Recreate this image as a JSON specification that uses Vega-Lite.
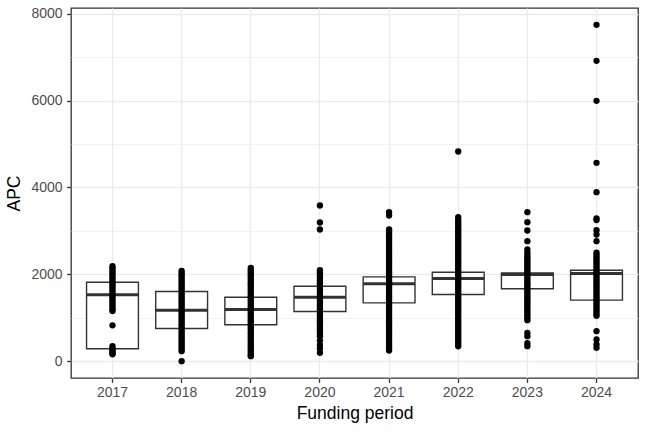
{
  "$schema": "https://vega.github.io/schema/vega-lite/v6.json",
  "autosize": {"type": "none"},
  "width": 567,
  "height": 370,
  "padding": {"left": 71, "top": 8, "right": 10, "bottom": 54},
  "background": "white",
  "config": {
    "view": {"stroke": "#333333", "strokeWidth": 1.3},
    "font": "Liberation Sans",
    "axis": {
      "labelFont": "Liberation Sans",
      "titleFont": "Liberation Sans",
      "labelFontSize": 14,
      "labelColor": "#4D4D4D",
      "titleFontSize": 17.5,
      "titleFontWeight": "normal",
      "titleColor": "#000000",
      "tickColor": "#333333",
      "tickSize": 4.4,
      "tickWidth": 1.3,
      "domain": false,
      "gridColor": "#EBEBEB"
    }
  },
  "datasets": {
    "boxes": [
      {"year": "2017", "q1": 292, "median": 1533, "q3": 1823},
      {"year": "2018", "q1": 759, "median": 1180, "q3": 1609},
      {"year": "2019", "q1": 843, "median": 1195, "q3": 1478},
      {"year": "2020", "q1": 1149, "median": 1478, "q3": 1731},
      {"year": "2021", "q1": 1348, "median": 1785, "q3": 1946},
      {"year": "2022", "q1": 1540, "median": 1908, "q3": 2053},
      {"year": "2023", "q1": 1671, "median": 2000, "q3": 2038},
      {"year": "2024", "q1": 1410, "median": 2023, "q3": 2099}
    ],
    "points": [
      {"year":"2017","APC":2190},{"year":"2017","APC":2150},{"year":"2017","APC":2100},{"year":"2017","APC":2050},{"year":"2017","APC":2000},{"year":"2017","APC":1950},{"year":"2017","APC":1900},{"year":"2017","APC":1850},{"year":"2017","APC":1800},{"year":"2017","APC":1750},{"year":"2017","APC":1700},{"year":"2017","APC":1650},{"year":"2017","APC":1600},{"year":"2017","APC":1550},{"year":"2017","APC":1500},{"year":"2017","APC":1450},{"year":"2017","APC":1400},{"year":"2017","APC":1350},{"year":"2017","APC":1300},{"year":"2017","APC":1250},{"year":"2017","APC":1200},{"year":"2017","APC":1160},{"year":"2017","APC":830},{"year":"2017","APC":350},{"year":"2017","APC":300},{"year":"2017","APC":260},{"year":"2017","APC":220},{"year":"2017","APC":190},{"year":"2017","APC":165},
      {"year":"2018","APC":2080},{"year":"2018","APC":2030},{"year":"2018","APC":1980},{"year":"2018","APC":1930},{"year":"2018","APC":1880},{"year":"2018","APC":1830},{"year":"2018","APC":1780},{"year":"2018","APC":1730},{"year":"2018","APC":1680},{"year":"2018","APC":1630},{"year":"2018","APC":1580},{"year":"2018","APC":1530},{"year":"2018","APC":1480},{"year":"2018","APC":1430},{"year":"2018","APC":1380},{"year":"2018","APC":1330},{"year":"2018","APC":1280},{"year":"2018","APC":1230},{"year":"2018","APC":1180},{"year":"2018","APC":1130},{"year":"2018","APC":1080},{"year":"2018","APC":1030},{"year":"2018","APC":980},{"year":"2018","APC":930},{"year":"2018","APC":880},{"year":"2018","APC":830},{"year":"2018","APC":780},{"year":"2018","APC":730},{"year":"2018","APC":680},{"year":"2018","APC":630},{"year":"2018","APC":580},{"year":"2018","APC":530},{"year":"2018","APC":480},{"year":"2018","APC":430},{"year":"2018","APC":380},{"year":"2018","APC":330},{"year":"2018","APC":280},{"year":"2018","APC":237},{"year":"2018","APC":7},
      {"year":"2019","APC":2150},{"year":"2019","APC":2100},{"year":"2019","APC":2050},{"year":"2019","APC":2000},{"year":"2019","APC":1950},{"year":"2019","APC":1900},{"year":"2019","APC":1850},{"year":"2019","APC":1800},{"year":"2019","APC":1750},{"year":"2019","APC":1700},{"year":"2019","APC":1650},{"year":"2019","APC":1600},{"year":"2019","APC":1550},{"year":"2019","APC":1500},{"year":"2019","APC":1450},{"year":"2019","APC":1400},{"year":"2019","APC":1350},{"year":"2019","APC":1300},{"year":"2019","APC":1250},{"year":"2019","APC":1200},{"year":"2019","APC":1150},{"year":"2019","APC":1100},{"year":"2019","APC":1050},{"year":"2019","APC":1000},{"year":"2019","APC":950},{"year":"2019","APC":900},{"year":"2019","APC":850},{"year":"2019","APC":800},{"year":"2019","APC":750},{"year":"2019","APC":700},{"year":"2019","APC":650},{"year":"2019","APC":600},{"year":"2019","APC":550},{"year":"2019","APC":500},{"year":"2019","APC":450},{"year":"2019","APC":400},{"year":"2019","APC":350},{"year":"2019","APC":300},{"year":"2019","APC":250},{"year":"2019","APC":200},{"year":"2019","APC":150},{"year":"2019","APC":122},
      {"year":"2020","APC":3586},{"year":"2020","APC":3195},{"year":"2020","APC":3034},{"year":"2020","APC":2100},{"year":"2020","APC":2050},{"year":"2020","APC":2000},{"year":"2020","APC":1950},{"year":"2020","APC":1900},{"year":"2020","APC":1850},{"year":"2020","APC":1800},{"year":"2020","APC":1750},{"year":"2020","APC":1700},{"year":"2020","APC":1650},{"year":"2020","APC":1600},{"year":"2020","APC":1550},{"year":"2020","APC":1500},{"year":"2020","APC":1450},{"year":"2020","APC":1400},{"year":"2020","APC":1350},{"year":"2020","APC":1300},{"year":"2020","APC":1250},{"year":"2020","APC":1200},{"year":"2020","APC":1150},{"year":"2020","APC":1100},{"year":"2020","APC":1050},{"year":"2020","APC":1000},{"year":"2020","APC":950},{"year":"2020","APC":900},{"year":"2020","APC":850},{"year":"2020","APC":800},{"year":"2020","APC":750},{"year":"2020","APC":700},{"year":"2020","APC":650},{"year":"2020","APC":580},{"year":"2020","APC":480},{"year":"2020","APC":380},{"year":"2020","APC":300},{"year":"2020","APC":200},
      {"year":"2021","APC":3432},{"year":"2021","APC":3356},{"year":"2021","APC":3034},{"year":"2021","APC":3000},{"year":"2021","APC":2950},{"year":"2021","APC":2900},{"year":"2021","APC":2850},{"year":"2021","APC":2800},{"year":"2021","APC":2750},{"year":"2021","APC":2700},{"year":"2021","APC":2650},{"year":"2021","APC":2600},{"year":"2021","APC":2550},{"year":"2021","APC":2500},{"year":"2021","APC":2450},{"year":"2021","APC":2400},{"year":"2021","APC":2350},{"year":"2021","APC":2300},{"year":"2021","APC":2250},{"year":"2021","APC":2200},{"year":"2021","APC":2150},{"year":"2021","APC":2100},{"year":"2021","APC":2050},{"year":"2021","APC":2000},{"year":"2021","APC":1950},{"year":"2021","APC":1900},{"year":"2021","APC":1850},{"year":"2021","APC":1800},{"year":"2021","APC":1750},{"year":"2021","APC":1700},{"year":"2021","APC":1650},{"year":"2021","APC":1600},{"year":"2021","APC":1550},{"year":"2021","APC":1500},{"year":"2021","APC":1450},{"year":"2021","APC":1400},{"year":"2021","APC":1350},{"year":"2021","APC":1300},{"year":"2021","APC":1250},{"year":"2021","APC":1200},{"year":"2021","APC":1150},{"year":"2021","APC":1100},{"year":"2021","APC":1050},{"year":"2021","APC":1000},{"year":"2021","APC":950},{"year":"2021","APC":900},{"year":"2021","APC":850},{"year":"2021","APC":800},{"year":"2021","APC":750},{"year":"2021","APC":700},{"year":"2021","APC":650},{"year":"2021","APC":600},{"year":"2021","APC":550},{"year":"2021","APC":500},{"year":"2021","APC":450},{"year":"2021","APC":400},{"year":"2021","APC":350},{"year":"2021","APC":300},{"year":"2021","APC":250},
      {"year":"2022","APC":4828},{"year":"2022","APC":3317},{"year":"2022","APC":3250},{"year":"2022","APC":3200},{"year":"2022","APC":3150},{"year":"2022","APC":3100},{"year":"2022","APC":3050},{"year":"2022","APC":3000},{"year":"2022","APC":2950},{"year":"2022","APC":2900},{"year":"2022","APC":2850},{"year":"2022","APC":2800},{"year":"2022","APC":2750},{"year":"2022","APC":2700},{"year":"2022","APC":2650},{"year":"2022","APC":2600},{"year":"2022","APC":2550},{"year":"2022","APC":2500},{"year":"2022","APC":2450},{"year":"2022","APC":2400},{"year":"2022","APC":2350},{"year":"2022","APC":2300},{"year":"2022","APC":2250},{"year":"2022","APC":2200},{"year":"2022","APC":2150},{"year":"2022","APC":2100},{"year":"2022","APC":2050},{"year":"2022","APC":2000},{"year":"2022","APC":1950},{"year":"2022","APC":1900},{"year":"2022","APC":1850},{"year":"2022","APC":1800},{"year":"2022","APC":1750},{"year":"2022","APC":1700},{"year":"2022","APC":1650},{"year":"2022","APC":1600},{"year":"2022","APC":1550},{"year":"2022","APC":1500},{"year":"2022","APC":1450},{"year":"2022","APC":1400},{"year":"2022","APC":1350},{"year":"2022","APC":1300},{"year":"2022","APC":1250},{"year":"2022","APC":1200},{"year":"2022","APC":1150},{"year":"2022","APC":1100},{"year":"2022","APC":1050},{"year":"2022","APC":1000},{"year":"2022","APC":950},{"year":"2022","APC":900},{"year":"2022","APC":850},{"year":"2022","APC":800},{"year":"2022","APC":750},{"year":"2022","APC":700},{"year":"2022","APC":650},{"year":"2022","APC":600},{"year":"2022","APC":550},{"year":"2022","APC":500},{"year":"2022","APC":450},{"year":"2022","APC":400},{"year":"2022","APC":350},
      {"year":"2023","APC":3432},{"year":"2023","APC":3202},{"year":"2023","APC":3011},{"year":"2023","APC":2766},{"year":"2023","APC":2575},{"year":"2023","APC":2500},{"year":"2023","APC":2450},{"year":"2023","APC":2400},{"year":"2023","APC":2350},{"year":"2023","APC":2300},{"year":"2023","APC":2250},{"year":"2023","APC":2200},{"year":"2023","APC":2150},{"year":"2023","APC":2100},{"year":"2023","APC":2050},{"year":"2023","APC":2000},{"year":"2023","APC":1950},{"year":"2023","APC":1900},{"year":"2023","APC":1850},{"year":"2023","APC":1800},{"year":"2023","APC":1750},{"year":"2023","APC":1700},{"year":"2023","APC":1650},{"year":"2023","APC":1600},{"year":"2023","APC":1550},{"year":"2023","APC":1500},{"year":"2023","APC":1450},{"year":"2023","APC":1400},{"year":"2023","APC":1350},{"year":"2023","APC":1300},{"year":"2023","APC":1250},{"year":"2023","APC":1200},{"year":"2023","APC":1150},{"year":"2023","APC":1100},{"year":"2023","APC":1050},{"year":"2023","APC":1000},{"year":"2023","APC":950},{"year":"2023","APC":659},{"year":"2023","APC":582},{"year":"2023","APC":420},{"year":"2023","APC":352},
      {"year":"2024","APC":7740},{"year":"2024","APC":6913},{"year":"2024","APC":5993},{"year":"2024","APC":4568},{"year":"2024","APC":3893},{"year":"2024","APC":3287},{"year":"2024","APC":3250},{"year":"2024","APC":3018},{"year":"2024","APC":2920},{"year":"2024","APC":2766},{"year":"2024","APC":2500},{"year":"2024","APC":2450},{"year":"2024","APC":2400},{"year":"2024","APC":2350},{"year":"2024","APC":2300},{"year":"2024","APC":2250},{"year":"2024","APC":2200},{"year":"2024","APC":2150},{"year":"2024","APC":2100},{"year":"2024","APC":2050},{"year":"2024","APC":2000},{"year":"2024","APC":1950},{"year":"2024","APC":1900},{"year":"2024","APC":1850},{"year":"2024","APC":1800},{"year":"2024","APC":1750},{"year":"2024","APC":1700},{"year":"2024","APC":1650},{"year":"2024","APC":1600},{"year":"2024","APC":1550},{"year":"2024","APC":1500},{"year":"2024","APC":1450},{"year":"2024","APC":1400},{"year":"2024","APC":1350},{"year":"2024","APC":1300},{"year":"2024","APC":1250},{"year":"2024","APC":1200},{"year":"2024","APC":1150},{"year":"2024","APC":1100},{"year":"2024","APC":1050},{"year":"2024","APC":697},{"year":"2024","APC":506},{"year":"2024","APC":391},{"year":"2024","APC":314}
    ]
  },
  "encoding": {
    "x": {
      "field": "year",
      "type": "ordinal",
      "title": "Funding period",
      "scale": {"type": "band", "paddingInner": 0.25, "paddingOuter": 0.225},
      "axis": {"labelAngle": 0, "bandPosition": 0.5, "grid": true, "gridWidth": 1.3, "labelPadding": 3.5, "titlePadding": 4.5}
    }
  },
  "layer": [
    {
      "data": {"name": "boxes"},
      "mark": {"type": "bar", "fill": "white", "stroke": "#333333", "strokeWidth": 1.4},
      "encoding": {
        "y": {
          "field": "q1",
          "type": "quantitative",
          "title": "APC",
          "scale": {"domain": [-380, 8127], "nice": false, "zero": false},
          "axis": {
            "values": [0, 1000, 2000, 3000, 4000, 5000, 6000, 7000, 8000],
            "format": "d",
            "labelExpr": "datum.value % 2000 === 0 ? datum.label : ''",
            "tickOpacity": {"condition": {"test": "datum.value % 2000 === 0", "value": 1}, "value": 0},
            "gridWidth": {"condition": {"test": "datum.value % 2000 === 0", "value": 1.3}, "value": 0.7},
            "grid": true,
            "labelPadding": 4.5,
            "titlePadding": 7
          }
        },
        "y2": {"field": "q3"}
      }
    },
    {
      "data": {"name": "boxes"},
      "mark": {"type": "rule", "color": "#333333", "strokeWidth": 3},
      "encoding": {
        "x": {"field": "year", "type": "ordinal", "bandPosition": 0},
        "x2": {"field": "year", "bandPosition": 1},
        "y": {"field": "median", "type": "quantitative"}
      }
    },
    {
      "data": {"name": "points"},
      "mark": {"type": "point", "filled": true, "color": "#000000", "opacity": 1, "size": 40},
      "encoding": {
        "y": {"field": "APC", "type": "quantitative"}
      }
    }
  ]
}
